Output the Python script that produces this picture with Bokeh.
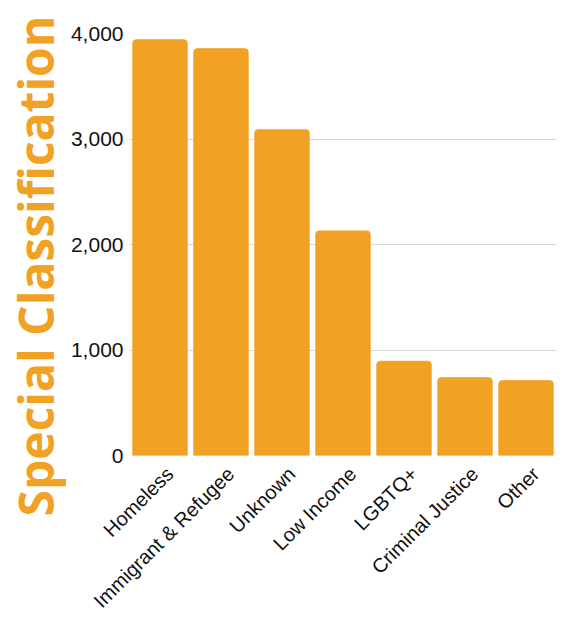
import math
from bokeh.plotting import figure
from bokeh.models import (ColumnDataSource, NumeralTickFormatter, FixedTicker,
                          Title, Range1d, LinearAxis)
from bokeh.embed import file_html
from bokeh.resources import INLINE

categories = ["Homeless", "Immigrant & Refugee", "Unknown", "Low Income",
              "LGBTQ+", "Criminal Justice", "Other"]
counts = [3940, 3855, 3087, 2128, 893, 737, 709]
y_ticks = [0, 1000, 2000, 3000, 4000]

ORANGE = "#F1A123"

n = len(categories)
pos = [i + 0.5 for i in range(n)]  # category slot centres
src = ColumnDataSource(data=dict(pos=pos, cat=categories, val=counts))

p = figure(x_range=Range1d(0, n), y_range=Range1d(0, 4000),
           frame_width=427, frame_height=422,
           output_backend="svg", toolbar_location=None,
           min_border_left=0, min_border_right=0, min_border_top=33,
           min_border_bottom=0)

p.vbar(x="pos", top="val", width=0.89, source=src, color=ORANGE,
       line_color=ORANGE, border_radius=(3, 3, 0, 0))

p.outline_line_color = None
p.xgrid.grid_line_color = None
p.ygrid.grid_line_color = "#d9d9d9"
p.ygrid.grid_line_width = 1

p.yaxis.ticker = FixedTicker(ticks=y_ticks)
p.yaxis.formatter = NumeralTickFormatter(format="0,0")
p.yaxis.axis_line_color = None
p.yaxis.major_tick_line_color = None
p.yaxis.minor_tick_line_color = None
p.yaxis.major_label_text_font = "Liberation Sans"
p.yaxis.major_label_text_font_size = "21px"
p.yaxis.major_label_text_color = "#111111"
p.yaxis.major_label_standoff = 0

title = Title(text="Special Classification", align="left", offset=-61,
              standoff=0, text_font="Open Sans", text_font_style="bold",
              text_font_size="48px", text_color=ORANGE)
p.add_layout(title, "left")

# hide the default axis; category labels come from a slightly shifted axis
p.xaxis.visible = False

shift = 0.16  # label anchor shift, in category widths
p.extra_x_ranges = {"lab": Range1d(start=-shift, end=n - shift)}
lab_axis = LinearAxis(x_range_name="lab",
                      ticker=FixedTicker(ticks=pos),
                      major_label_overrides={t: c for t, c in zip(pos, categories)})
lab_axis.axis_line_color = None
lab_axis.major_tick_line_color = None
lab_axis.minor_tick_line_color = None
lab_axis.major_label_orientation = math.pi / 4
lab_axis.major_label_text_font = "Liberation Sans"
lab_axis.major_label_text_font_size = "20px"
lab_axis.major_label_text_color = "#111111"
lab_axis.major_label_standoff = 9
p.add_layout(lab_axis, "below")

p.background_fill_color = "white"
p.border_fill_color = "white"

open("out.html", "w").write(file_html(p, INLINE))
